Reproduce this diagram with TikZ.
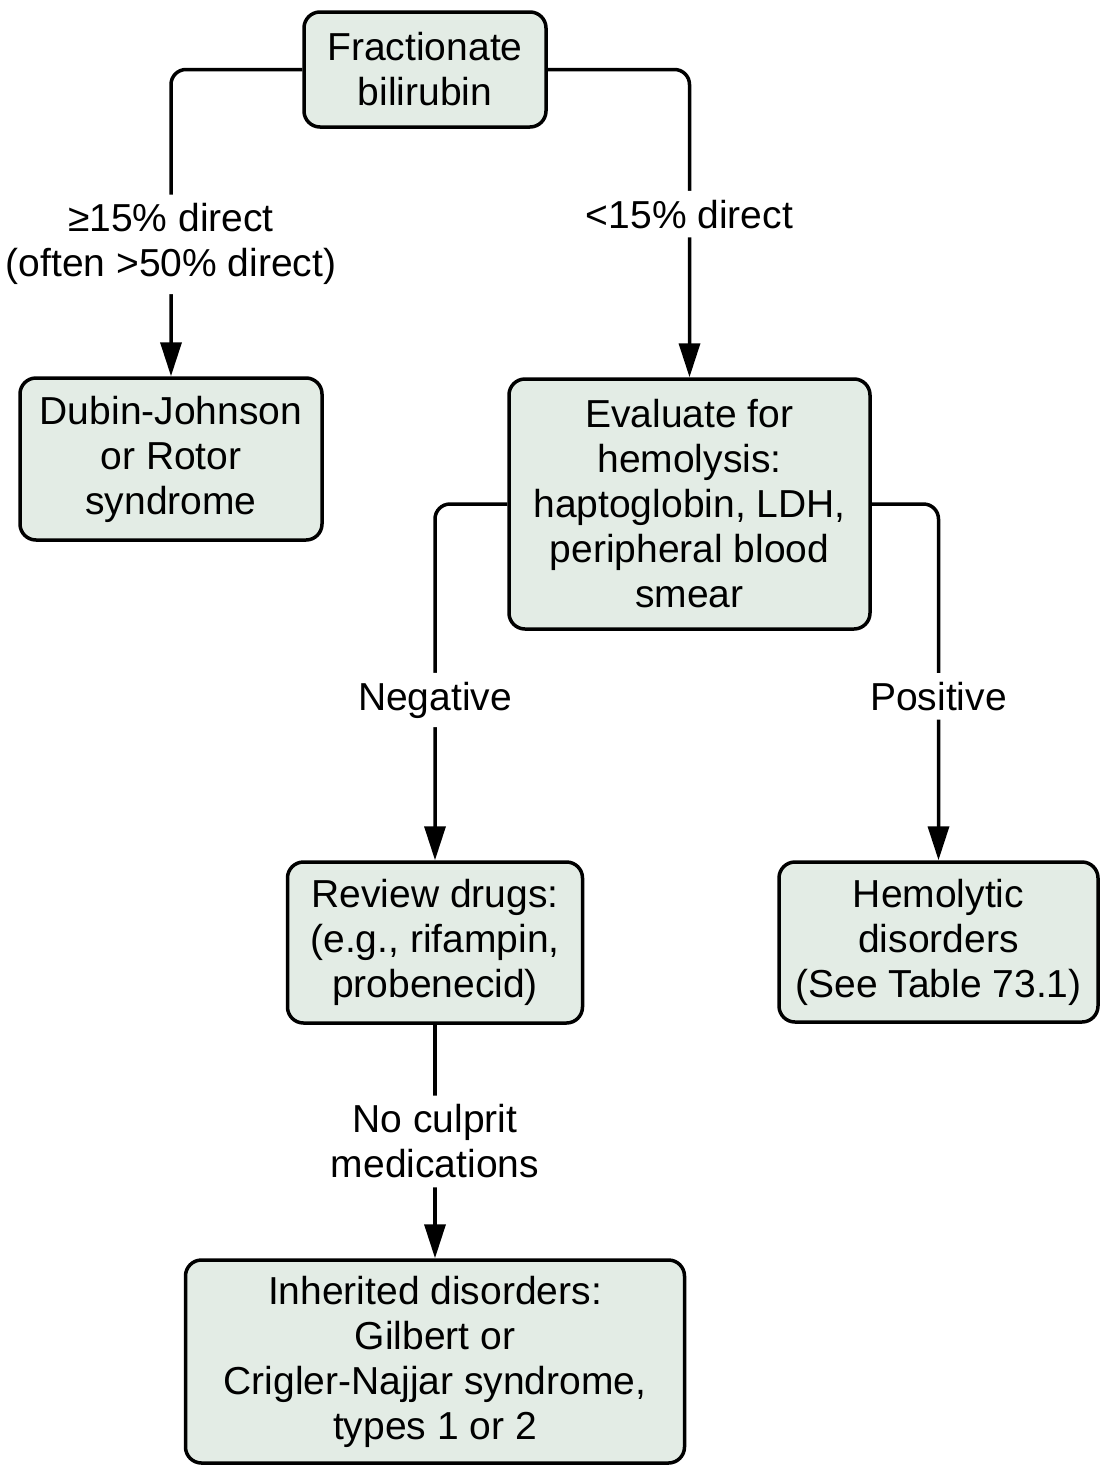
\documentclass[tikz,border=0pt]{standalone}
\usepackage{fontspec}
\setmainfont{Liberation Sans}
\usetikzlibrary{arrows.meta}

\definecolor{boxfill}{RGB}{227,236,229}

\tikzstyle{block} = [
        draw,
        fill=boxfill,
        rectangle,
        rounded corners=16pt,
        line width=3.5pt,
        align=center,
        inner sep=4pt
    ]
\tikzstyle{cond} = [
        fill=white,
        align=center,
        inner xsep=4pt,
        inner ysep=9pt
    ]
\tikzstyle{link} = [
        line width=3.5pt,
        rounded corners=15pt,
        -{Triangle[length=34pt,width=21pt]}
    ]

\begin{document}
\begin{tikzpicture}[x=1pt, y=-1pt,
        every node/.style={font=\fontsize{39}{45}\selectfont}]
        \useasboundingbox (0,0) rectangle (1113,1473);
        \node(frac) [block, minimum width=242pt, minimum height=115pt]
            at (425,69.5) {Fractionate\\bilirubin};
        \node(dubj) [block, minimum width=302pt, minimum height=162pt]
            at (171,459) {Dubin-Johnson\\or Rotor\\syndrome};
        \node(eval) [block, minimum width=361pt, minimum height=250pt]
            at (689.5,504) {Evaluate for\\hemolysis:\\haptoglobin, LDH,\\peripheral blood\\smear};
        \node(revw) [block, minimum width=295pt, minimum height=161pt]
            at (435,942.5) {Review drugs:\\(e.g., rifampin,\\probenecid)};
        \node(hemo) [block, minimum width=319pt, minimum height=160pt]
            at (938.5,942) {Hemolytic\\disorders\\(See Table 73.1)};
        \node(inhr) [block, minimum width=499pt, minimum height=203pt]
            at (435,1361.5) {Inherited disorders:\\Gilbert or\\Crigler-Najjar syndrome,\\types 1 or 2};
        \draw[link] (frac.west) -| node[cond, pos=0.785]
            {≥15\% direct\\(often >50\% direct)} (dubj.north);
        \draw[link] (frac.east) -| node[cond, pos=0.735]{<15\% direct} (eval.north);
        \draw[link] (eval.west) -| node[cond, pos=0.775]{Negative} (revw.north);
        \draw[link] (eval.east) -| node[cond, pos=0.77]{Positive} (hemo.north);
        \draw[link] (revw) -- node[cond, pos=0.5]{No culprit\\medications} (inhr);
    \end{tikzpicture}
\end{document}
